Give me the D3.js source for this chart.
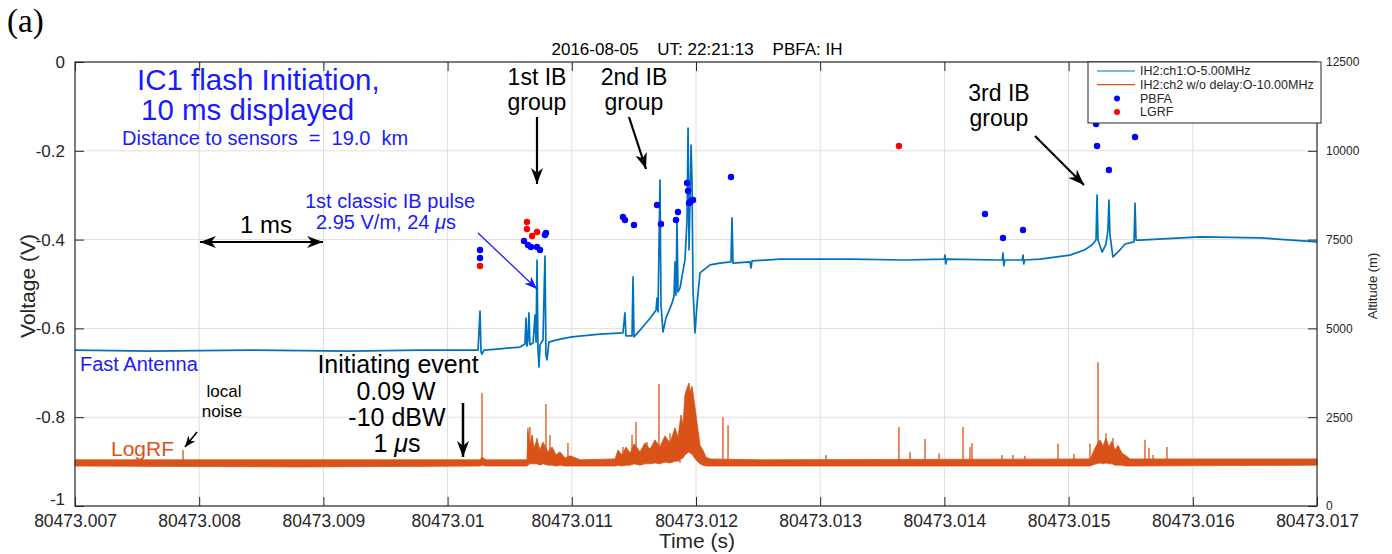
<!DOCTYPE html>
<html>
<head>
<meta charset="utf-8">
<script src="https://cdn.jsdelivr.net/npm/d3@7"></script>
<style>
    body { margin: 0; background: #fff; }
    svg text { font-family: "Liberation Sans", Arial, Helvetica, sans-serif; }
</style>
</head>
<body>
<svg class="chart"></svg>
<script>
// time is kept in ms after 80473 s
var xTickMs = [7, 8, 9, 10, 11, 12, 13, 14, 15, 16, 17];
var voltTicks = [-1, -0.8, -0.6, -0.4, -0.2, 0];
var altTicks = [0, 2500, 5000, 7500, 10000, 12500];

// fast antenna (ch1)
var faTimeMs = [
    7.000, 7.604, 8.409, 9.214, 9.778, 10.245, 10.261, 10.269, 10.277, 10.293,
    10.422, 10.583, 10.623, 10.631, 10.639, 10.647, 10.655, 10.663, 10.688, 10.704,
    10.712, 10.720, 10.728, 10.736, 10.744, 10.768, 10.784, 10.792, 10.800, 10.816,
    10.849, 10.905, 11.002, 11.227, 11.412, 11.428, 11.436, 11.485, 11.493, 11.501,
    11.549, 11.630, 11.678, 11.686, 11.694, 11.710, 11.718, 11.734, 11.758, 11.807,
    11.823, 11.831, 11.839, 11.847, 11.855, 11.871, 11.911, 11.928, 11.936, 11.944,
    11.952, 11.960, 11.968, 11.976, 11.992, 12.008, 12.032, 12.113, 12.193, 12.282,
    12.290, 12.298, 12.435, 12.443, 12.451, 12.676, 13.240, 13.683, 13.999, 14.005,
    14.011, 14.019, 14.448, 14.466, 14.472, 14.478, 14.486, 14.627, 14.633, 14.639,
    14.647, 14.770, 15.011, 15.132, 15.188, 15.221, 15.229, 15.237, 15.270, 15.301,
    15.317, 15.325, 15.333, 15.357, 15.414, 15.455, 15.527, 15.535, 15.543, 15.575,
    16.058, 16.541, 17.000
];
var faVolt = [
    -0.649, -0.651, -0.649, -0.651, -0.649, -0.649, -0.561, -0.653, -0.658, -0.649,
    -0.646, -0.642, -0.635, -0.577, -0.640, -0.626, -0.565, -0.637, -0.633, -0.570,
    -0.631, -0.446, -0.649, -0.687, -0.637, -0.626, -0.437, -0.660, -0.671, -0.631,
    -0.628, -0.624, -0.619, -0.613, -0.610, -0.565, -0.617, -0.617, -0.484, -0.619,
    -0.604, -0.577, -0.559, -0.532, -0.563, -0.266, -0.547, -0.608, -0.577, -0.543,
    -0.527, -0.450, -0.525, -0.356, -0.518, -0.509, -0.446, -0.356, -0.149, -0.423,
    -0.311, -0.187, -0.266, -0.514, -0.610, -0.547, -0.475, -0.457, -0.453, -0.450,
    -0.351, -0.453, -0.450, -0.464, -0.448, -0.444, -0.444, -0.446, -0.444, -0.435,
    -0.455, -0.444, -0.446, -0.446, -0.430, -0.459, -0.446, -0.446, -0.435, -0.455,
    -0.446, -0.444, -0.435, -0.423, -0.412, -0.401, -0.300, -0.401, -0.428, -0.410,
    -0.378, -0.311, -0.390, -0.439, -0.423, -0.410, -0.405, -0.318, -0.401, -0.401,
    -0.394, -0.396, -0.405
];

// LogRF (ch2): noise envelope plus single spikes
var rfEnvMs = [
    7.000, 8.812, 10.261, 10.277, 10.309, 10.639, 10.647, 10.663, 10.680, 10.696,
    10.720, 10.744, 10.768, 10.808, 10.841, 10.873, 10.905, 10.945, 10.986, 11.066,
    11.348, 11.372, 11.404, 11.437, 11.469, 11.501, 11.549, 11.589, 11.630, 11.670,
    11.710, 11.750, 11.791, 11.831, 11.855, 11.879, 11.895, 11.911, 11.928, 11.944,
    11.952, 11.968, 11.984, 12.000, 12.016, 12.032, 12.056, 12.081, 12.113, 12.515,
    15.172, 15.188, 15.221, 15.253, 15.277, 15.301, 15.325, 15.349, 15.374, 15.398,
    15.430, 15.462, 15.494, 17.000
];
var rfEnvLow = [
    -0.910, -0.912, -0.910, -0.908, -0.910, -0.910, -0.908, -0.905, -0.905, -0.905,
    -0.905, -0.908, -0.905, -0.908, -0.908, -0.910, -0.908, -0.910, -0.910, -0.910,
    -0.910, -0.908, -0.910, -0.908, -0.908, -0.905, -0.908, -0.905, -0.905, -0.903,
    -0.905, -0.901, -0.903, -0.899, -0.899, -0.894, -0.892, -0.885, -0.881, -0.878,
    -0.881, -0.883, -0.890, -0.896, -0.901, -0.905, -0.908, -0.910, -0.910, -0.910,
    -0.910, -0.908, -0.905, -0.903, -0.905, -0.903, -0.905, -0.905, -0.908, -0.908,
    -0.908, -0.910, -0.910, -0.908
];
var rfEnvHigh = [
    -0.896, -0.896, -0.896, -0.890, -0.896, -0.896, -0.833, -0.863, -0.842, -0.869,
    -0.851, -0.874, -0.856, -0.878, -0.867, -0.885, -0.878, -0.892, -0.887, -0.896,
    -0.894, -0.874, -0.885, -0.867, -0.881, -0.860, -0.878, -0.858, -0.872, -0.851,
    -0.867, -0.842, -0.858, -0.824, -0.845, -0.795, -0.818, -0.750, -0.734, -0.723,
    -0.743, -0.730, -0.761, -0.795, -0.829, -0.863, -0.874, -0.890, -0.894, -0.896,
    -0.894, -0.885, -0.865, -0.851, -0.865, -0.847, -0.867, -0.854, -0.874, -0.863,
    -0.881, -0.887, -0.894, -0.894
];
var rfSpikeMs = [7.870, 10.277, 10.647, 10.663, 10.680, 10.720, 10.792, 10.824, 10.969, 11.412,
    11.485, 11.517, 11.605, 11.702, 11.791, 11.871, 12.217, 12.258, 13.047, 13.634,
    13.723, 13.844, 13.957, 14.150, 14.206, 14.222, 14.464, 14.552, 14.649, 14.915,
    15.043, 15.172, 15.237, 15.301, 15.357, 15.615, 15.647, 15.680, 15.792];
var rfSpikeVolt = [-0.874, -0.745, -0.824, -0.822, -0.840, -0.847, -0.770, -0.840, -0.858, -0.867,
    -0.840, -0.811, -0.856, -0.725, -0.836, -0.822, -0.800, -0.818, -0.885, -0.822,
    -0.878, -0.849, -0.881, -0.822, -0.867, -0.858, -0.885, -0.885, -0.887, -0.860,
    -0.883, -0.860, -0.676, -0.836, -0.847, -0.851, -0.869, -0.885, -0.867];

// source altitudes (right axis)
var pbfaMs = [10.261, 10.261, 10.615, 10.647, 10.671, 10.720, 10.744, 10.784, 10.792, 11.412,
    11.428, 11.501, 11.686, 11.718, 11.839, 11.855, 11.928, 11.936, 11.944, 11.960,
    11.976, 12.282, 14.327, 14.472, 14.633, 15.221, 15.229, 15.325, 15.535];
var pbfaAlt = [7207, 6982, 7460, 7348, 7291, 7291, 7207, 7629, 7686, 8136,
    8051, 7911, 8474, 7939, 8051, 8276, 9093, 8868, 8530, 8586,
    8614, 9262, 8220, 7544, 7770, 10754, 10135, 9459, 10388];
var lgrfMs = [10.261, 10.639, 10.639, 10.680, 10.720, 13.634];
var lgrfAlt = [6757, 7995, 7798, 7601, 7714, 10135];

var legendLabels = ['IH2:ch1:O-5.00MHz', 'IH2:ch2 w/o delay:O-10.00MHz', 'PBFA', 'LGRF'];

var blueColor = '#0072BD',
    orangeColor = '#D95319',
    noteBlue = '#1a1aff',
    axisColor = '#262626';

var config = {
    width: 1392, height: 554,
    margin: { left: 75, top: 62 },
    innerWidth: 1242, innerHeight: 444
};

var svg = d3.select('.chart')
    .attr('width', config.width)
    .attr('height', config.height);

var defs = svg.append('defs');
function addArrow(id, color, w, h) {
    defs.append('marker')
        .attr('id', id)
        .attr('markerUnits', 'userSpaceOnUse')
        .attr('markerWidth', w).attr('markerHeight', h)
        .attr('refX', w).attr('refY', h / 2)
        .attr('orient', 'auto-start-reverse')
        .append('path')
        .attr('d', 'M0,0 L' + w + ',' + (h / 2) + ' L0,' + h + ' L' + (w * 0.3) + ',' + (h / 2) + ' Z')
        .attr('fill', color);
}
addArrow('arrBlack', '#000', 16, 12);
addArrow('arrSmall', '#000', 11, 9);
addArrow('arrBlue', noteBlue, 13, 10);

var chart = svg.append('g')
    .attr('transform', 'translate(' + config.margin.left + ',' + config.margin.top + ')');

var x = d3.scaleLinear().domain([7, 17]).range([0, config.innerWidth]);
var y = d3.scaleLinear().domain([-1, 0]).range([config.innerHeight, 0]);
var yAlt = d3.scaleLinear().domain([0, 12500]).range([config.innerHeight, 0]);

// grid
chart.append('g').selectAll('line')
    .data(xTickMs.slice(1, -1))
    .enter().append('line')
    .attr('x1', function(d) { return x(d); }).attr('x2', function(d) { return x(d); })
    .attr('y1', 0).attr('y2', config.innerHeight)
    .attr('stroke', '#dedede').attr('stroke-width', 1);
chart.append('g').selectAll('line')
    .data(voltTicks.slice(1, -1))
    .enter().append('line')
    .attr('x1', 0).attr('x2', config.innerWidth)
    .attr('y1', function(d) { return y(d); }).attr('y2', function(d) { return y(d); })
    .attr('stroke', '#dedede').attr('stroke-width', 1);

// LogRF
var rfEnv = rfEnvMs.map(function(t, i) { return { t: t, lo: rfEnvLow[i], hi: rfEnvHigh[i] }; });
chart.append('path')
    .datum(rfEnv)
    .attr('d', d3.area()
        .x(function(d) { return x(d.t); })
        .y0(function(d) { return y(d.lo); })
        .y1(function(d) { return y(d.hi); }))
    .attr('fill', orangeColor)
    .attr('stroke', orangeColor).attr('stroke-width', 0.8)
    .attr('stroke-linejoin', 'round');
chart.append('g').selectAll('line')
    .data(rfSpikeMs)
    .enter().append('line')
    .attr('x1', function(d) { return x(d); }).attr('x2', function(d) { return x(d); })
    .attr('y1', y(-0.903))
    .attr('y2', function(d, i) { return y(rfSpikeVolt[i]); })
    .attr('stroke', orangeColor).attr('stroke-width', 1.3);

// fast antenna
chart.append('path')
    .datum(faTimeMs.map(function(t, i) { return [t, faVolt[i]]; }))
    .attr('d', d3.line()
        .x(function(d) { return x(d[0]); })
        .y(function(d) { return y(d[1]); }))
    .attr('fill', 'none')
    .attr('stroke', blueColor).attr('stroke-width', 1.7)
    .attr('stroke-linejoin', 'round');

// altitude dots
chart.append('g').selectAll('circle')
    .data(pbfaMs)
    .enter().append('circle')
    .attr('cx', function(d) { return x(d); })
    .attr('cy', function(d, i) { return yAlt(pbfaAlt[i]); })
    .attr('r', 3.2).attr('fill', '#0000ff');
chart.append('g').selectAll('circle')
    .data(lgrfMs)
    .enter().append('circle')
    .attr('cx', function(d) { return x(d); })
    .attr('cy', function(d, i) { return yAlt(lgrfAlt[i]); })
    .attr('r', 3.2).attr('fill', '#ff0000');

// axes (ticks point inward)
function styleAxis(g, size) {
    g.select('.domain').remove();
    g.selectAll('.tick line').attr('stroke', axisColor);
    g.selectAll('.tick text').attr('fill', axisColor).style('font-size', size + 'px');
}
function fmtTime(d) { return String(+(80473 + d / 1000).toFixed(3)); }
function fmtVolt(d) { return String(+d.toFixed(1)); }

chart.append('g')
    .attr('transform', 'translate(0,' + config.innerHeight + ')')
    .call(d3.axisBottom(x).tickValues(xTickMs).tickFormat(fmtTime).tickSizeInner(-9).tickSizeOuter(0).tickPadding(9))
    .call(styleAxis, 17.5);
chart.append('g')
    .call(d3.axisTop(x).tickValues(xTickMs).tickFormat('').tickSizeInner(-9).tickSizeOuter(0))
    .call(styleAxis, 16);
var leftAxis = chart.append('g')
    .call(d3.axisLeft(y).tickValues(voltTicks).tickFormat(fmtVolt).tickSizeInner(-9).tickSizeOuter(0).tickPadding(10))
    .call(styleAxis, 17);
// lowest label sits a little above its tick, clear of the time labels
leftAxis.selectAll('.tick text')
    .filter(function(d) { return d === -1; })
    .attr('y', -7);
chart.append('g')
    .attr('transform', 'translate(' + config.innerWidth + ',0)')
    .call(d3.axisRight(yAlt).tickValues(altTicks).tickFormat(d3.format('d')).tickSizeInner(-9).tickSizeOuter(0).tickPadding(9))
    .call(styleAxis, 12);

chart.append('rect')
    .attr('width', config.innerWidth).attr('height', config.innerHeight)
    .attr('fill', 'none').attr('stroke', axisColor).attr('stroke-width', 1.2);

// axis titles
svg.append('text').attr('transform', 'translate(35,286) rotate(-90)')
    .attr('text-anchor', 'middle').style('font-size', '21px').attr('fill', axisColor)
    .text('Voltage (V)');
svg.append('text').attr('transform', 'translate(1377,286) rotate(-90)')
    .attr('text-anchor', 'middle').style('font-size', '13px').attr('fill', axisColor)
    .text('Altitude (m)');
svg.append('text').attr('x', 697).attr('y', 548)
    .attr('text-anchor', 'middle').style('font-size', '21px').attr('fill', axisColor)
    .text('Time (s)');
svg.append('text').attr('x', 697).attr('y', 55)
    .attr('text-anchor', 'middle').style('font-size', '17px').style('white-space', 'pre')
    .attr('fill', '#000')
    .text('2016-08-05    UT: 22:21:13    PBFA: IH');
svg.append('text').attr('x', 7).attr('y', 32)
    .style('font-family', '"Liberation Serif", "Times New Roman", serif')
    .style('font-size', '33px').attr('fill', '#000')
    .text('(a)');

// annotations
function note(txt, px, py, size, color, anchor) {
    return svg.append('text').attr('x', px).attr('y', py)
        .attr('text-anchor', anchor || 'start')
        .style('font-size', size + 'px').style('white-space', 'pre')
        .attr('fill', color)
        .text(txt);
}
function arrow(x1, y1, x2, y2, color, width, marker, both) {
    var l = svg.append('line')
        .attr('x1', x1).attr('y1', y1).attr('x2', x2).attr('y2', y2)
        .attr('stroke', color).attr('stroke-width', width)
        .attr('marker-end', 'url(#' + marker + ')');
    if (both) l.attr('marker-start', 'url(#' + marker + ')');
}
function muNote(pre, post, px, py, size, color, anchor) {
    var t = note('', px, py, size, color, anchor);
    t.append('tspan').text(pre);
    t.append('tspan').style('font-style', 'italic').text('\u03bc');
    t.append('tspan').text(post);
}

note('IC1 flash Initiation,', 137, 90, 29.5, noteBlue);
note('10 ms displayed', 141, 120, 29.5, noteBlue);
note('Distance to sensors  =  19.0  km', 122, 145, 20, noteBlue);

note('1st IB', 537, 85, 23, '#000', 'middle');
note('group', 537, 110, 23, '#000', 'middle');
arrow(537, 117, 537, 184, '#000', 2.2, 'arrBlack');
note('2nd IB', 634, 85, 23, '#000', 'middle');
note('group', 634, 110, 23, '#000', 'middle');
arrow(629, 117, 646, 169, '#000', 2.2, 'arrBlack');
note('3rd IB', 999, 101, 23, '#000', 'middle');
note('group', 999, 126, 23, '#000', 'middle');
arrow(1035, 136, 1084, 185, '#000', 2.2, 'arrBlack');

note('1st classic IB pulse', 305, 208, 20, noteBlue);
muNote('2.95 V/m, 24 ', 's', 316, 229, 20, noteBlue);
arrow(478, 233, 537, 289, noteBlue, 1.3, 'arrBlue');

note('1 ms', 240, 233, 24, '#000');
arrow(200, 242, 323, 242, '#000', 2.2, 'arrBlack', true);

note('Fast Antenna', 80, 371, 20, noteBlue);
note('LogRF', 111, 456, 21, orangeColor);
note('local', 224, 397, 17, '#000', 'middle');
note('noise', 222, 417, 17, '#000', 'middle');
arrow(197, 432, 185, 447, '#000', 1.6, 'arrSmall');

note('Initiating event', 398, 373, 25, '#000', 'middle');
note('0.09 W', 396, 400, 25, '#000', 'middle');
note('-10 dBW', 397, 426, 25, '#000', 'middle');
muNote('1 ', 's', 397, 452, 25, '#000', 'middle');
arrow(463, 403, 463, 457, '#000', 2.5, 'arrBlack');

// legend
var legend = svg.append('g').attr('transform', 'translate(1088,62)');
legend.append('rect')
    .attr('width', 233).attr('height', 61)
    .attr('fill', '#fff').attr('stroke', axisColor).attr('stroke-width', 1);
var items = legend.selectAll('g.item')
    .data(legendLabels)
    .enter().append('g')
    .attr('transform', function(d, i) { return 'translate(0,' + (9 + i * 13.7) + ')'; });
items.filter(function(d, i) { return i < 2; })
    .append('line')
    .attr('x1', 9).attr('x2', 47)
    .attr('stroke', function(d, i) { return i === 0 ? blueColor : orangeColor; })
    .attr('stroke-width', 1.2);
items.filter(function(d, i) { return i >= 2; })
    .append('circle')
    .attr('cx', 29).attr('r', 3)
    .attr('fill', function(d, i) { return i === 0 ? '#0000ff' : '#ff0000'; });
items.append('text')
    .attr('x', 52).attr('dy', '0.35em')
    .style('font-size', '12.5px').attr('fill', axisColor)
    .text(function(d) { return d; });
</script>
</body>
</html>
